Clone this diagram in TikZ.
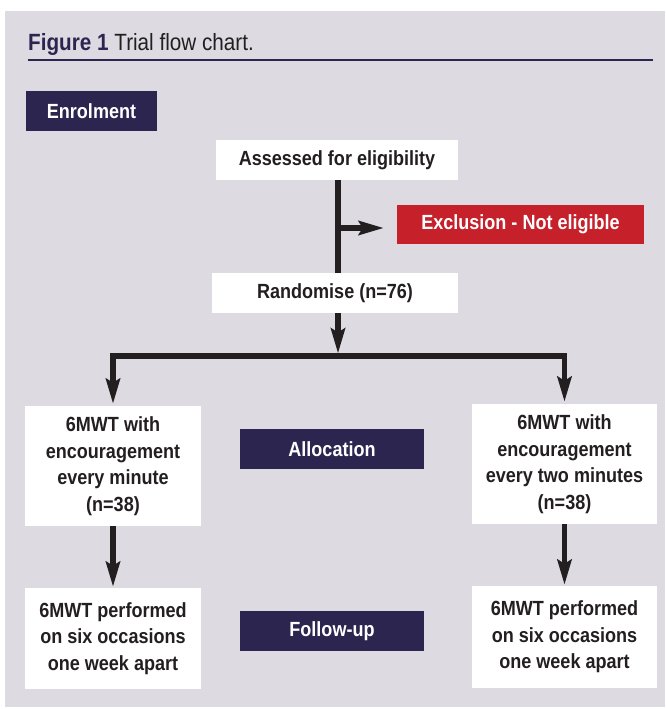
\documentclass[tikz,border=0pt]{standalone}
\usepackage{fontspec}
\setmainfont{Liberation Sans}[FakeStretch=0.88]
\usetikzlibrary{arrows.meta}
\definecolor{bg}{HTML}{DDDAE1}
\definecolor{navy}{HTML}{2B2550}
\definecolor{exred}{HTML}{C6202B}
\definecolor{ink}{HTML}{231F20}
\tikzset{
  box/.style={fill=white, text=ink, font=\bfseries\fontsize{20.5}{26.5}\selectfont,
    align=center, inner sep=0pt},
  stagebox/.style={box, fill=navy, text=white},
  redbox/.style={box, fill=exred, text=white},
  flow/.style={draw=ink, line width=5.5pt, line join=miter},
  arr/.style={flow, -{Stealth[length=25pt,width=14pt,inset=4pt]}}
}
\begin{document}
\begin{tikzpicture}[x=1pt,y=-1pt]
\useasboundingbox (0,0) rectangle (665,709);
\fill[bg] (5,11) rectangle (665,707);

% title
\node[anchor=base west, inner sep=0pt, font=\fontsize{23.5}{26}\selectfont, text=ink] (title) at (28,50.7)
  {\textcolor{navy}{\bfseries Figure 1} Trial flow chart.};
\coordinate (r1) at (28,60);
\coordinate (r2) at (653,60);
\draw[navy, line width=2.5pt] (r1) -- (r2);

% nodes
\node[stagebox, minimum width=131pt, minimum height=40pt] (enrol) at (91.5,111) {Enrolment};
\node[box, minimum width=242pt, minimum height=40pt] (assess) at (337,160) {Assessed for eligibility};
\node[redbox, minimum width=247pt, minimum height=39pt] (excl) at (520.5,224.5) {Exclusion - Not eligible};
\node[box, minimum width=246pt, minimum height=40pt] (rand) at (335,293) {Randomise (n=76)};
\node[box, minimum width=176pt, minimum height=120pt] (left) at (113,466)
  {6MWT with\\encouragement\\every minute\\(n=38)};
\node[box, minimum width=185pt, minimum height=120pt] (right) at (564.5,464)
  {6MWT with\\encouragement\\every two minutes\\(n=38)};
\node[stagebox, minimum width=184pt, minimum height=40pt] (alloc) at (332,449) {Allocation};
\node[box, minimum width=176pt, minimum height=101pt] (leftfu) at (113,638.5)
  {6MWT performed\\on six occasions\\one week apart};
\node[box, minimum width=185pt, minimum height=102pt] (rightfu) at (564.5,637)
  {6MWT performed\\on six occasions\\one week apart};
\node[stagebox, minimum width=184pt, minimum height=40pt] (fu) at (332,631) {Follow-up};

% connectors
\coordinate (j1) at (338,228);
\coordinate (br) at (338,356);
\draw[flow] (assess.south -| j1) -- (rand.north -| j1);
\draw[arr, shorten >=13pt] (j1) -- (excl.west |- j1);
\draw[arr, shorten >=2.5pt] (rand.south -| br) -- (br);
\draw[arr, shorten >=2pt] (br) -| (left.north);
\draw[arr, shorten >=2pt] (br) -| (right.north);
\draw[arr, shorten >=1pt] (left.south) -- (leftfu.north);
\draw[arr, shorten >=1pt] (right.south) -- (rightfu.north);
\end{tikzpicture}
\end{document}
